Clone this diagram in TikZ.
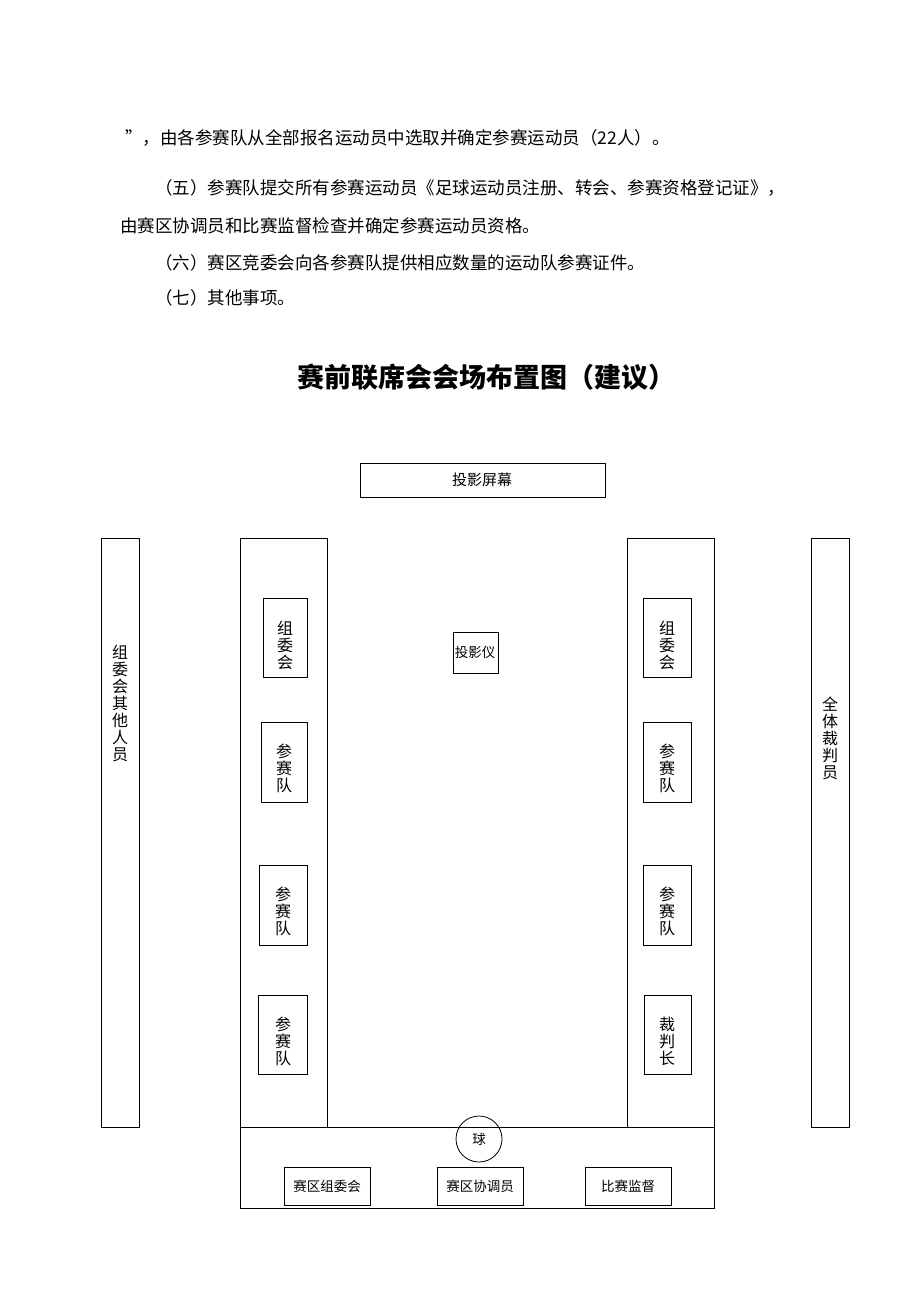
\documentclass[tikz,border=0pt]{standalone}
\usepackage{fontspec}
\setmainfont{Noto Sans CJK SC}
\begin{document}
\begin{tikzpicture}[x=1pt,y=-1pt,
 bx/.style={draw,line width=0.8pt},
 lbl/.style={font=\fontsize{15}{17}\selectfont,align=center,inner sep=0pt},
 vt/.style={font=\fontsize{16}{17}\selectfont,align=center,inner sep=0pt},
 txt/.style={anchor=west,font=\fontsize{17.5}{20}\selectfont,inner sep=0pt}]
\useasboundingbox (0,0) rectangle (920,1302);
\node[txt] (l1) at (125,138) {”，由各参赛队从全部报名运动员中选取并确定参赛运动员（22人）。};
\node[txt] (l2) at (155,188) {（五）参赛队提交所有参赛运动员《足球运动员注册、转会、参赛资格登记证》，};
\node[txt] (l3) at (120,226) {由赛区协调员和比赛监督检查并确定参赛运动员资格。};
\node[txt] (l4) at (155,263) {（六）赛区竞委会向各参赛队提供相应数量的运动队参赛证件。};
\node[txt] (l5) at (155,298) {（七）其他事项。};
\node[font=\fontsize{27}{30}\selectfont\bfseries,inner sep=0pt] (title) at (486,377) {赛前联席会会场布置图（建议）};
\draw[bx] (360,463) rectangle (605,497);
\node[lbl] (screen) at (482,480) {投影屏幕};
\draw[bx] (101,538) rectangle (139,1127);
\node[vt] (lo) at (120,703) {组\\委\\会\\其\\他\\人\\员};
\draw[bx] (240,538) rectangle (327,1127);
\draw[bx] (627,538) rectangle (714,1127);
\draw[bx] (811,538) rectangle (849,1127);
\node[vt] (ref) at (830,738) {全\\体\\裁\\判\\员};
\draw[bx] (240,1127) rectangle (714,1208);
\draw[bx] (263,598) rectangle (307,677); \node[vt] (a1) at (285,645) {组\\委\\会};
\draw[bx] (261,722) rectangle (307,802); \node[vt] (a2) at (284,768) {参\\赛\\队};
\draw[bx] (259,865) rectangle (307,945); \node[vt] (a3) at (283,911) {参\\赛\\队};
\draw[bx] (258,995) rectangle (307,1074); \node[vt] (a4) at (283,1041) {参\\赛\\队};
\draw[bx] (643,598) rectangle (691,677); \node[vt] (b1) at (667,645) {组\\委\\会};
\draw[bx] (643,722) rectangle (691,802); \node[vt] (b2) at (667,768) {参\\赛\\队};
\draw[bx] (643,865) rectangle (691,945); \node[vt] (b3) at (667,911) {参\\赛\\队};
\draw[bx] (644,995) rectangle (691,1074); \node[vt] (b4) at (667,1041) {裁\\判\\长};
\draw[bx] (453,632) rectangle (498,673); \node[lbl,font=\fontsize{13.5}{15}\selectfont] (proj) at (475,652) {投影仪};
\node[draw,line width=0.8pt,circle,minimum size=46pt,inner sep=0pt,font=\fontsize{13.5}{15}\selectfont] (ball) at (479,1139) {球};
\draw[bx] (284,1167) rectangle (370,1205); \node[lbl,font=\fontsize{13.5}{15}\selectfont] (c1) at (327,1186) {赛区组委会};
\draw[bx] (437,1167) rectangle (523,1205); \node[lbl,font=\fontsize{13.5}{15}\selectfont] (c2) at (480,1186) {赛区协调员};
\draw[bx] (585,1167) rectangle (671,1205); \node[lbl,font=\fontsize{13.5}{15}\selectfont] (c3) at (628,1186) {比赛监督};
\end{tikzpicture}
\end{document}
